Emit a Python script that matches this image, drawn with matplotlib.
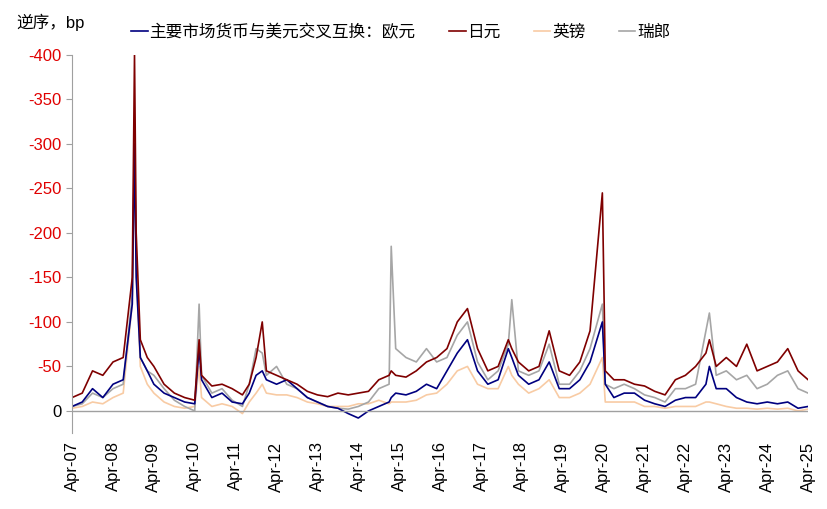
import pandas as pd
import matplotlib
matplotlib.use("Agg")
import matplotlib.pyplot as plt
import matplotlib.dates as mdates

plt.rcParams['font.family'] = ['Liberation Sans', 'Noto Sans CJK SC', 'DejaVu Sans']

dates = ['2007-04-01', '2007-07-01', '2007-10-01', '2008-01-01', '2008-04-01', '2008-07-01',
         '2008-09-20', '2008-10-10', '2008-10-25', '2008-12-01', '2009-02-01', '2009-04-01',
         '2009-07-01', '2009-10-01', '2010-01-01', '2010-04-01', '2010-05-10', '2010-06-01',
         '2010-09-01', '2010-12-01', '2011-03-01', '2011-06-01', '2011-08-01', '2011-10-01',
         '2011-11-25', '2012-01-01', '2012-04-01', '2012-07-01', '2012-10-01', '2013-01-01',
         '2013-04-01', '2013-07-01', '2013-10-01', '2014-01-01', '2014-04-01', '2014-07-01',
         '2014-10-01', '2015-01-01', '2015-01-20', '2015-03-01', '2015-06-01', '2015-09-01',
         '2015-12-01', '2016-03-01', '2016-06-01', '2016-09-01', '2016-12-01', '2017-03-01',
         '2017-06-01', '2017-09-01', '2017-12-01', '2018-01-01', '2018-03-01', '2018-06-01',
         '2018-09-01', '2018-12-01', '2019-03-01', '2019-06-01', '2019-09-01', '2019-12-01',
         '2020-03-20', '2020-04-15', '2020-07-01', '2020-10-01', '2021-01-01', '2021-04-01',
         '2021-07-01', '2021-10-01', '2022-01-01', '2022-04-01', '2022-07-01', '2022-10-01',
         '2022-11-01', '2023-01-01', '2023-04-01', '2023-07-01', '2023-10-01', '2024-01-01',
         '2024-04-01', '2024-07-01', '2024-10-01', '2025-01-01', '2025-04-01']

eur = [5, 10, 25, 15, 30, 35, 120, 300, 150, 60, 45, 30, 20, 15, 10, 8, 70, 35, 15, 20, 10, 8,
       20, 40, 45, 35, 30, 35, 25, 15, 10, 5, 3, -3, -8, 0, 5, 10, 15, 20, 18, 22, 30, 25, 45,
       65, 80, 45, 30, 35, 70, 60, 40, 30, 35, 55, 25, 25, 35, 55, 100, 30, 15, 20, 20, 12, 8,
       5, 12, 15, 15, 30, 50, 25, 25, 15, 10, 8, 10, 8, 10, 3, 5]
jpy = [15, 20, 45, 40, 55, 60, 150, 400, 200, 80, 60, 50, 30, 20, 15, 12, 80, 40, 28, 30, 25,
       18, 30, 60, 100, 45, 40, 35, 30, 22, 18, 16, 20, 18, 20, 22, 35, 40, 45, 40, 38, 45, 55,
       60, 70, 100, 115, 70, 45, 50, 80, 70, 55, 45, 50, 90, 45, 40, 55, 90, 245, 45, 35, 35,
       30, 28, 22, 18, 35, 40, 50, 65, 80, 50, 60, 50, 75, 45, 50, 55, 70, 45, 35]
gbp = [3, 5, 10, 8, 15, 20, 120, 290, 160, 50, 30, 20, 10, 5, 3, 5, 50, 15, 5, 8, 5, -3, 10,
       20, 30, 20, 18, 18, 15, 10, 8, 5, 5, 5, 8, 8, 12, 8, 10, 10, 10, 12, 18, 20, 30, 45, 50,
       30, 25, 25, 50, 40, 30, 20, 25, 35, 15, 15, 20, 30, 60, 10, 10, 10, 10, 5, 5, 3, 5, 5,
       5, 10, 10, 8, 5, 3, 3, 2, 3, 2, 3, 0, 2]
chf = [5, 8, 20, 15, 25, 30, 130, 320, 170, 60, 45, 40, 25, 12, 5, 0, 120, 40, 20, 25, 12, 5,
       30, 70, 65, 40, 50, 30, 25, 15, 10, 5, 3, 2, 5, 10, 25, 30, 185, 70, 60, 55, 70, 55,
       60, 85, 100, 55, 35, 45, 75, 125, 45, 40, 45, 75, 30, 30, 45, 70, 120, 30, 25, 30, 25,
       18, 15, 10, 25, 25, 30, 90, 110, 40, 45, 35, 40, 25, 30, 40, 45, 25, 20]

x = pd.to_datetime(dates)
fig = plt.figure(figsize=(8.28, 5.09), dpi=100)
ax = fig.add_axes([0.087, 0.149, 0.889, 0.743])

ax.plot(x, [-v for v in gbp], color='#F8CBA4', lw=1.2, label='英镑')
ax.plot(x, [-v for v in chf], color='#A6A6A6', lw=1.2, label='瑞郎')
ax.plot(x, [-v for v in eur], color='#00007F', lw=1.2, label='主要市场货币与美元交叉互换：欧元')
ax.plot(x, [-v for v in jpy], color='#7F0000', lw=1.2, label='日元')

ax.set_ylim(25, -400)
ax.set_yticks(range(0, -401, -50))
ax.set_yticklabels([str(t) for t in range(0, -401, -50)], fontsize=12)
for lab in ax.get_yticklabels()[1:]:
    lab.set_color('#E00000')
ax.set_xlim(pd.Timestamp('2007-04-01'), pd.Timestamp('2025-04-01'))
ax.xaxis.set_major_locator(mdates.MonthLocator(bymonth=4))
ax.xaxis.set_major_formatter(mdates.DateFormatter('Apr-%y'))
plt.setp(ax.get_xticklabels(), rotation=90, fontsize=12)
ax.tick_params(axis='x', length=0, pad=6)
ax.tick_params(axis='y', length=4, color='#A0A0A0')
for s in ['top', 'right', 'bottom']:
    ax.spines[s].set_visible(False)
ax.spines['left'].set_color('#A0A0A0')
ax.axhline(0, color='#A0A0A0', lw=1)

h, l = ax.get_legend_handles_labels()
order = [2, 3, 0, 1]
ax.legend([h[i] for i in order], [l[i] for i in order], ncol=4, frameon=False,
          loc='lower left', bbox_to_anchor=(0.06, 1.0), handlelength=1.0, handletextpad=0.1,
          columnspacing=2.0, prop={'size': 12})
fig.text(0.02, 0.945, '逆序，bp', fontsize=12)
fig.savefig('out.png', dpi=100)
